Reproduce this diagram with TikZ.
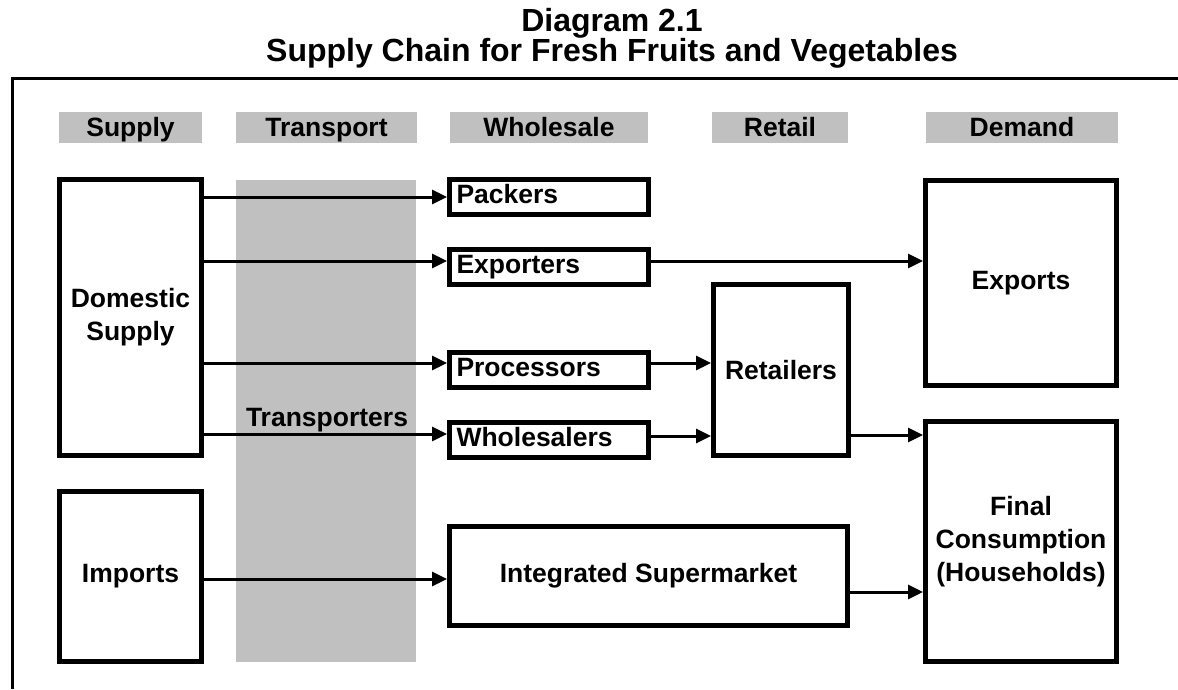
\documentclass[tikz,border=0pt]{standalone}
\usepackage{fontspec}
\setmainfont{Liberation Sans}
\usepackage{tikz}
\usepackage{xcolor}
\usetikzlibrary{arrows.meta,positioning,calc}
\definecolor{HeadGray}{RGB}{192,192,192}

\begin{document}
\begin{tikzpicture}[x=1pt, y=-1pt, every node/.style={font=\fontsize{26.5}{33}\selectfont\bfseries},
  head/.style={fill=HeadGray, inner sep=0pt, minimum height=31pt, text height=20pt, text depth=3pt},
  box/.style={draw, line width=5pt, fill=white, inner sep=0pt, align=center},
  slim/.style={box, minimum width=199pt, minimum height=35pt, text width=185pt, align=left, text height=20pt, text depth=7pt},
  arr/.style={-{Triangle[length=15pt, width=14pt]}, line width=3pt}]
\useasboundingbox (0,0) rectangle (1178,689);
% title and frame
\node[anchor=base, font=\fontsize{32}{36}\selectfont\bfseries] (title) at (612,31) {Diagram 2.1};
\node[anchor=base, font=\fontsize{32}{36}\selectfont\bfseries] (subtitle) at (612,61) {Supply Chain for Fresh Fruits and Vegetables};
\draw[line width=3pt] (1178,78) -- (12,78) -- (12,689);
% column heads
\node[head, minimum width=143pt] (hsup) at (130.5,127.5) {Supply};
\node[head, minimum width=181pt] (htra) at (326.5,127.5) {Transport};
\node[head, minimum width=198pt] (hwho) at (549,127.5) {Wholesale};
\node[head, minimum width=136pt] (hret) at (780,127.5) {Retail};
\node[head, minimum width=192pt] (hdem) at (1022,127.5) {Demand};
% transport band
\node[fill=HeadGray, inner sep=0pt, minimum width=180pt, minimum height=482pt] (band) at (326,421) {};
\node (transp) at (327,420) {Transporters};
% boxes
\node[box, minimum width=142pt, minimum height=276pt] (dom) at (130.5,317.5) {Domestic\\Supply};
\node[box, minimum width=142pt, minimum height=170pt] (imp) at (130.5,576.5) {Imports};
\node[slim] (pack) at (549,197) {Packers};
\node[slim] (expo) at (549,266.5) {Exporters};
\node[slim] (proc) at (549,369.5) {Processors};
\node[slim] (whol) at (549,439.5) {Wholesalers};
\node[box, minimum width=398pt, minimum height=99pt] (integ) at (648.5,576) {Integrated Supermarket};
\node[box, minimum width=135pt, minimum height=171pt] (ret) at (781,370) {Retailers};
\node[box, minimum width=191pt, minimum height=205pt] (exps) at (1021,283) {Exports};
\node[box, minimum width=191pt, minimum height=240pt] (final) at (1021,541.5) {Final\\Consumption\\(Households)};
% flows
\draw[arr] (pack.west -| dom.east) -- (pack.west);
\draw[arr] ([yshift=5.5pt]expo.west -| dom.east) -- ([yshift=5.5pt]expo.west);
\draw[arr] ([yshift=6.5pt]proc.west -| dom.east) -- ([yshift=6.5pt]proc.west);
\draw[arr] ([yshift=5.5pt]whol.west -| dom.east) -- ([yshift=5.5pt]whol.west);
\draw[arr] ([yshift=5.5pt]expo.east) -- ([yshift=5.5pt]expo.east -| exps.west);
\draw[arr] ([yshift=6.5pt]proc.east) -- ([yshift=6.5pt]proc.east -| ret.west);
\draw[arr] ([yshift=3.5pt]whol.east) -- ([yshift=3.5pt]whol.east -| ret.west);
\draw[arr] ([yshift=4.5pt]whol.east -| ret.east) -- ([yshift=4.5pt]whol.east -| final.west);
\draw[arr] ([yshift=-2.5pt]imp.east) -- ([yshift=-2.5pt]imp.east -| integ.west);
\draw[arr] ([yshift=-16pt]integ.east) -- ([yshift=-16pt]integ.east -| final.west);
\end{tikzpicture}
\end{document}
